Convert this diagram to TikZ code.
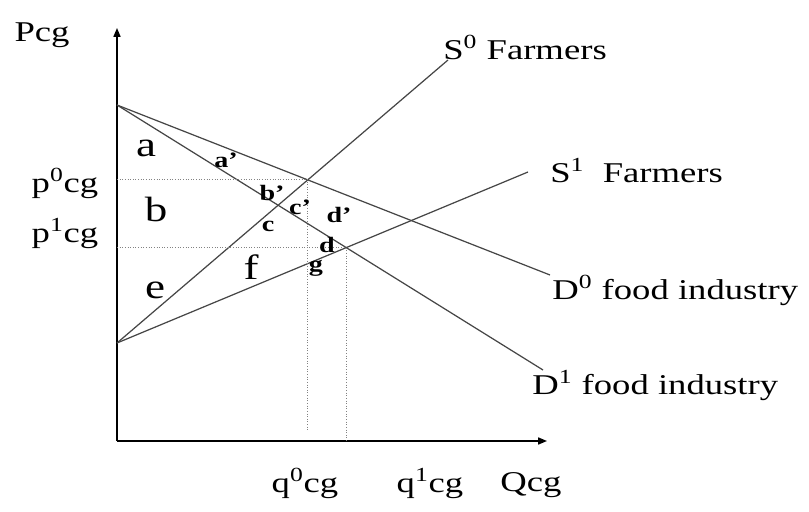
\documentclass[tikz,border=0pt]{standalone}
\usepackage{fontspec}
\setmainfont{Liberation Serif}[FakeStretch=1.28]
\usetikzlibrary{arrows.meta,positioning}
\definecolor{curveGray}{RGB}{70,70,70}
\definecolor{guideGray}{RGB}{130,130,130}

\tikzset{
  axisline/.style={line width=0.8pt,-{Triangle[length=5pt,width=4pt]}},
  curve/.style={curveGray,line width=0.7pt},
  guide/.style={guideGray,densely dotted,line width=0.5pt},
  axlab/.style={inner sep=0pt,font=\fontsize{16.3}{18}\selectfont},
  arealab/.style={inner sep=0pt,font=\fontsize{20}{22}\selectfont},
  ptlab/.style={inner sep=0pt,font=\fontsize{12.5}{14}\selectfont\bfseries},
}

\begin{document}
\begin{tikzpicture}
  \useasboundingbox (0,0) rectangle (16.18,10.24);
  % axes
  \coordinate (O) at (2.34,1.42);
  \coordinate (ytop) at (2.34,9.68);
  \coordinate (xend) at (10.94,1.42);
  \draw[axisline] (O) -- (ytop);
  \draw[axisline] (O) -- (xend);

  % supply and demand
  \coordinate (Dst) at (2.34,8.14);
  \coordinate (Sst) at (2.34,3.38);
  \coordinate (S0e) at (8.96,9.04);
  \coordinate (S1e) at (10.56,6.80);
  \coordinate (D0e) at (11.00,4.74);
  \coordinate (D1e) at (10.86,2.84);
  \draw[curve] (Sst) -- (S0e);
  \draw[curve] (Sst) -- (S1e);
  \draw[curve] (Dst) -- (D0e);
  \draw[curve] (Dst) -- (D1e);

  % equilibria
  \coordinate (E0) at (intersection of Sst--S0e and Dst--D0e);
  \coordinate (E1) at (intersection of Sst--S1e and Dst--D1e);
  \coordinate (q0bot) at (0,1.64);
  \draw[guide] (E0 -| O) -- (E0) -- (E0 |- q0bot);
  \draw[guide] (E1 -| O) -- (E1) -- (E1 |- O);

  % axis labels
  \node[axlab,anchor=base] (Pcg) at (0.84,9.40) {Pcg};
  \node[axlab,anchor=base] (p0) at (1.30,6.38) {p\textsuperscript{0}cg};
  \node[axlab,anchor=base] (p1) at (1.30,5.38) {p\textsuperscript{1}cg};
  \node[axlab,anchor=base] (q0) at (6.10,0.38) {q\textsuperscript{0}cg};
  \node[axlab,anchor=base] (q1) at (8.60,0.38) {q\textsuperscript{1}cg};
  \node[axlab,anchor=base] (Qcg) at (10.62,0.40) {Qcg};

  % curve labels
  \node[axlab,anchor=base west] (S0lab) at (8.86,9.04) {S\textsuperscript{0} Farmers};
  \node[axlab,anchor=base west] (S1lab) at (11.00,6.58) {S\textsuperscript{1}\ \ Farmers};
  \node[axlab,anchor=base west] (D0lab) at (11.04,4.24) {D\textsuperscript{0} food industry};
  \node[axlab,anchor=base west] (D1lab) at (10.64,2.34) {D\textsuperscript{1} food industry};

  % areas
  \node[arealab] (areaA) at (2.92,7.28) {a};
  \node[arealab,anchor=base] (areaB) at (3.12,5.80) {b};
  \node[arealab] (areaE) at (3.10,4.44) {e};
  \node[arealab,anchor=base] (areaF) at (5.02,4.64) {f};
  \node[ptlab] (ptA) at (4.52,7.04) {a'};
  \node[ptlab] (ptB) at (5.44,6.38) {b'};
  \node[ptlab] (ptCp) at (6.00,6.10) {c'};
  \node[ptlab] (ptC) at (5.36,5.72) {c};
  \node[ptlab] (ptDp) at (6.78,5.94) {d'};
  \node[ptlab] (ptD) at (6.54,5.34) {d};
  \node[ptlab] (ptG) at (6.32,4.88) {g};
\end{tikzpicture}
\end{document}
